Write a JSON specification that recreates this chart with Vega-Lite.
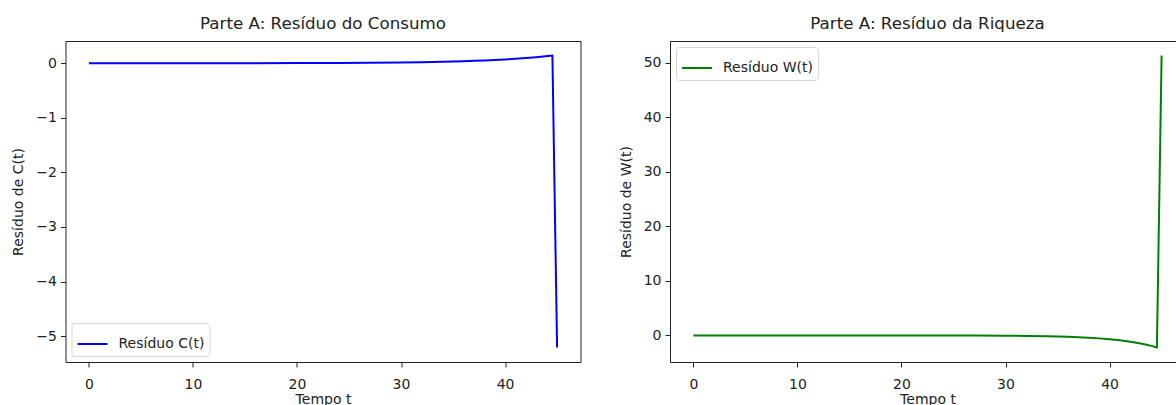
{
  "$schema": "https://vega.github.io/schema/vega-lite/v6.json",
  "padding": {"left": 10.5, "top": 15, "right": 0, "bottom": 0},
  "background": "white",
  "datasets": {
    "consumo": [
      {"t": 0, "residuo": 0.0, "serie": "Resíduo C(t)"},
      {"t": 5, "residuo": 0.0001, "serie": "Resíduo C(t)"},
      {"t": 10, "residuo": 0.0007, "serie": "Resíduo C(t)"},
      {"t": 15, "residuo": 0.0015, "serie": "Resíduo C(t)"},
      {"t": 20, "residuo": 0.0032, "serie": "Resíduo C(t)"},
      {"t": 24, "residuo": 0.0059, "serie": "Resíduo C(t)"},
      {"t": 27, "residuo": 0.0095, "serie": "Resíduo C(t)"},
      {"t": 30, "residuo": 0.0149, "serie": "Resíduo C(t)"},
      {"t": 32, "residuo": 0.0203, "serie": "Resíduo C(t)"},
      {"t": 34, "residuo": 0.0276, "serie": "Resíduo C(t)"},
      {"t": 35, "residuo": 0.032, "serie": "Resíduo C(t)"},
      {"t": 36, "residuo": 0.0375, "serie": "Resíduo C(t)"},
      {"t": 37, "residuo": 0.044, "serie": "Resíduo C(t)"},
      {"t": 38, "residuo": 0.0509, "serie": "Resíduo C(t)"},
      {"t": 39, "residuo": 0.0595, "serie": "Resíduo C(t)"},
      {"t": 40, "residuo": 0.0694, "serie": "Resíduo C(t)"},
      {"t": 41, "residuo": 0.081, "serie": "Resíduo C(t)"},
      {"t": 42, "residuo": 0.0945, "serie": "Resíduo C(t)"},
      {"t": 43, "residuo": 0.11, "serie": "Resíduo C(t)"},
      {"t": 43.65, "residuo": 0.122, "serie": "Resíduo C(t)"},
      {"t": 44.1, "residuo": 0.131, "serie": "Resíduo C(t)"},
      {"t": 44.55, "residuo": 0.141, "serie": "Resíduo C(t)"},
      {"t": 45, "residuo": -5.207, "serie": "Resíduo C(t)"}
    ],
    "riqueza": [
      {"t": 0, "residuo": 0.0, "serie": "Resíduo W(t)"},
      {"t": 5, "residuo": -0.0001, "serie": "Resíduo W(t)"},
      {"t": 10, "residuo": -0.0004, "serie": "Resíduo W(t)"},
      {"t": 15, "residuo": -0.0013, "serie": "Resíduo W(t)"},
      {"t": 20, "residuo": -0.005, "serie": "Resíduo W(t)"},
      {"t": 24, "residuo": -0.013, "serie": "Resíduo W(t)"},
      {"t": 27, "residuo": -0.027, "serie": "Resíduo W(t)"},
      {"t": 30, "residuo": -0.058, "serie": "Resíduo W(t)"},
      {"t": 32, "residuo": -0.095, "serie": "Resíduo W(t)"},
      {"t": 34, "residuo": -0.157, "serie": "Resíduo W(t)"},
      {"t": 35, "residuo": -0.202, "serie": "Resíduo W(t)"},
      {"t": 36, "residuo": -0.259, "serie": "Resíduo W(t)"},
      {"t": 37, "residuo": -0.333, "serie": "Resíduo W(t)"},
      {"t": 38, "residuo": -0.428, "serie": "Resíduo W(t)"},
      {"t": 39, "residuo": -0.549, "serie": "Resíduo W(t)"},
      {"t": 40, "residuo": -0.705, "serie": "Resíduo W(t)"},
      {"t": 41, "residuo": -0.906, "serie": "Resíduo W(t)"},
      {"t": 42, "residuo": -1.163, "serie": "Resíduo W(t)"},
      {"t": 43, "residuo": -1.493, "serie": "Resíduo W(t)"},
      {"t": 43.65, "residuo": -1.757, "serie": "Resíduo W(t)"},
      {"t": 44.1, "residuo": -1.966, "serie": "Resíduo W(t)"},
      {"t": 44.55, "residuo": -2.2, "serie": "Resíduo W(t)"},
      {"t": 45, "residuo": 51.3, "serie": "Resíduo W(t)"}
    ]
  },
  "config": {
    "font": "DejaVu Sans",
    "view": {"stroke": "#222222", "strokeWidth": 1},
    "axis": {
      "domain": false,
      "grid": false,
      "ticks": true,
      "tickColor": "#222222",
      "tickSize": 5,
      "tickWidth": 1,
      "labelPadding": 4,
      "labelFont": "DejaVu Sans",
      "labelFontSize": 14,
      "labelColor": "#222222",
      "titleFont": "DejaVu Sans",
      "titleFontSize": 14,
      "titleFontWeight": "normal",
      "titleColor": "#222222"
    },
    "title": {
      "font": "DejaVu Sans",
      "fontSize": 16.7,
      "fontWeight": "normal",
      "color": "#222222",
      "anchor": "middle",
      "offset": 8
    },
    "legend": {
      "title": null,
      "labelFont": "DejaVu Sans",
      "labelFontSize": 14,
      "labelColor": "#222222",
      "symbolType": "stroke",
      "symbolSize": 900,
      "symbolStrokeWidth": 2,
      "labelOffset": 10,
      "fillColor": "white",
      "strokeColor": "#d6d6d6",
      "cornerRadius": 3,
      "padding": 5,
      "offset": 6
    },
    "concat": {"spacing": 36.5}
  },
  "resolve": {
    "scale": {"x": "independent", "y": "independent", "color": "independent"},
    "legend": {"color": "independent"}
  },
  "hconcat": [
    {
      "title": "Parte A: Resíduo do Consumo",
      "width": 515,
      "height": 321,
      "data": {"name": "consumo"},
      "mark": {"type": "line", "strokeWidth": 2, "clip": true},
      "encoding": {
        "x": {
          "field": "t",
          "type": "quantitative",
          "title": "Tempo t",
          "scale": {"domain": [-2.25, 47.25], "nice": false, "zero": false},
          "axis": {"values": [0, 10, 20, 30, 40], "labelPadding": 10, "titlePadding": 1}
        },
        "y": {
          "field": "residuo",
          "type": "quantitative",
          "title": "Resíduo de C(t)",
          "scale": {"domain": [-5.474, 0.408], "nice": false, "zero": false},
          "axis": {"values": [-5, -4, -3, -2, -1, 0], "titlePadding": 10}
        },
        "color": {
          "field": "serie",
          "type": "nominal",
          "scale": {"domain": ["Resíduo C(t)"], "range": ["blue"]},
          "legend": {"orient": "bottom-left"}
        }
      }
    },
    {
      "title": "Parte A: Resíduo da Riqueza",
      "width": 515,
      "height": 321,
      "data": {"name": "riqueza"},
      "mark": {"type": "line", "strokeWidth": 2, "clip": true},
      "encoding": {
        "x": {
          "field": "t",
          "type": "quantitative",
          "title": "Tempo t",
          "scale": {"domain": [-2.25, 47.25], "nice": false, "zero": false},
          "axis": {"values": [0, 10, 20, 30, 40], "labelPadding": 10, "titlePadding": 1}
        },
        "y": {
          "field": "residuo",
          "type": "quantitative",
          "title": "Resíduo de W(t)",
          "scale": {"domain": [-4.88, 53.97], "nice": false, "zero": false},
          "axis": {"values": [0, 10, 20, 30, 40, 50], "titlePadding": 10}
        },
        "color": {
          "field": "serie",
          "type": "nominal",
          "scale": {"domain": ["Resíduo W(t)"], "range": ["green"]},
          "legend": {"orient": "top-left"}
        }
      }
    }
  ]
}
